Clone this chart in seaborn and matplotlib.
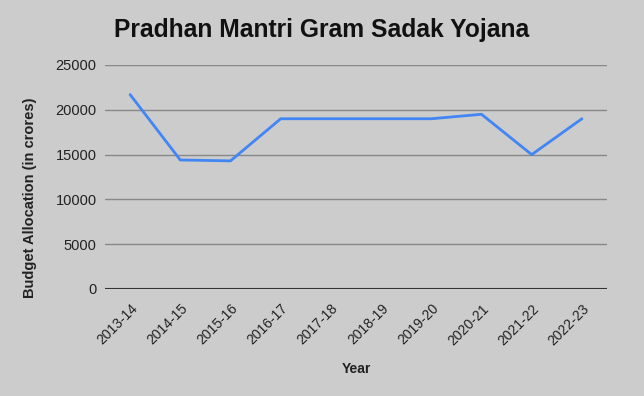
import matplotlib
matplotlib.use("Agg")
import matplotlib.pyplot as plt
import seaborn as sns
import pandas as pd

years = ["2013-14", "2014-15", "2015-16", "2016-17", "2017-18",
         "2018-19", "2019-20", "2020-21", "2021-22", "2022-23"]
allocation = [21700, 14400, 14300, 19000, 19000, 19000, 19000, 19500, 15000, 19000]
yticks = [0, 5000, 10000, 15000, 20000, 25000]

df = pd.DataFrame({"Year": years, "Allocation": allocation})

sns.set_theme(style="white")
plt.rcParams["font.family"] = ["Liberation Sans", "DejaVu Sans"]

bg = "#cccccc"
fig = plt.figure(figsize=(6.44, 3.96), dpi=100, facecolor=bg)
ax = fig.add_axes([105/644, 1-289/396, 502/644, 224/396], facecolor=bg)

sns.lineplot(data=df, x="Year", y="Allocation", ax=ax, color="#4285f4",
             linewidth=2, sort=False)

ax.set_xlim(-0.5, len(years) - 0.5)
ax.set_ylim(0, 25000)
ax.set_yticks(yticks)
ax.set_yticklabels([str(v) for v in yticks], fontsize=10.5, color="#222222")
ax.grid(axis="y", color="#888888", linewidth=1)
ax.axhline(0, color="#333333", linewidth=1.5, zorder=3)
ax.tick_params(axis="y", length=0, pad=6)
ax.tick_params(axis="x", length=0, pad=9)
plt.setp(ax.get_xticklabels(), rotation=45, ha="right", rotation_mode="anchor",
         fontsize=10, color="#222222")
for s in ax.spines.values():
    s.set_visible(False)

ax.set_xlabel("Year", fontsize=10, fontweight="bold", color="#222222", labelpad=10)
ax.set_ylabel("Budget Allocation (in crores)", fontsize=10.5, fontweight="bold",
              color="#222222")
ax.yaxis.label.set_va("center")
ax.yaxis.set_label_coords(-0.149, 0.406)
fig.text(321.5/644, 1-30/396, "Pradhan Mantri Gram Sadak Yojana", ha="center",
         va="center", fontsize=17.7, fontweight="bold", color="#111111")

fig.savefig("out.png", dpi=100, facecolor=bg)
